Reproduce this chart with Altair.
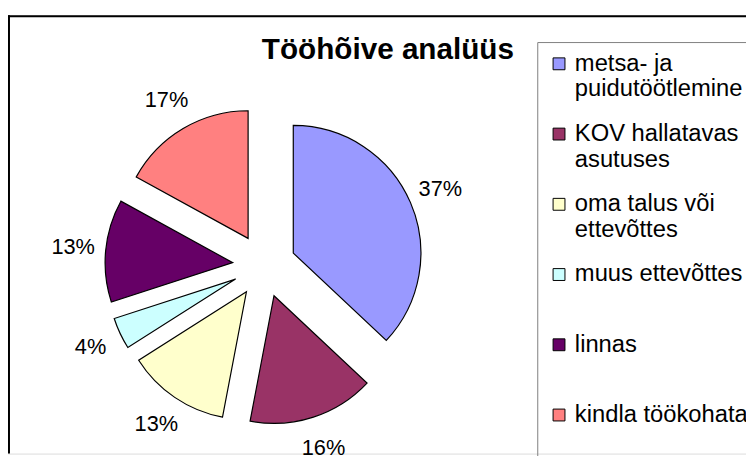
import altair as alt
import pandas as pd

# ---- data ----
categories = [
    "metsa- ja\npuidutöötlemine",
    "KOV hallatavas\nasutuses",
    "oma talus või\nettevõttes",
    "muus ettevõttes",
    "linnas",
    "kindla töökohata",
]
values = [37, 16, 13, 4, 13, 17]
colors = ["#9999FF", "#993366", "#FFFFCC", "#CCFFFF", "#660066", "#FF8080"]
title_text = "Tööhõive analüüs"

# ---- layout constants ----
W, H = 746, 443
CX, CY = 259, 253
R = 129
EXPLODE = 32
LABEL_R = 194
FONT = "Liberation Sans"

df = pd.DataFrame({"category": categories, "value": values,
                   "order": list(range(len(categories)))})

base = (
    alt.Chart(df)
    .transform_joinaggregate(total="sum(value)")
    .transform_window(cum="sum(value)", sort=[alt.SortField("order")], frame=[None, 0])
    .transform_calculate(start="(datum.cum - datum.value) / datum.total * 2 * PI")
    .transform_calculate(end="datum.cum / datum.total * 2 * PI")
    .transform_calculate(mid="(datum.start + datum.end) / 2")
    .transform_calculate(pct="format(datum.value / datum.total, '.0%')")
    .transform_calculate(
        cx=f"{CX} + {EXPLODE} * sin(datum.mid)",
        cy=f"{CY} - {EXPLODE} * cos(datum.mid)",
        lx=f"{CX} + {LABEL_R} * sin(datum.mid)",
        ly=f"{CY} - {LABEL_R} * cos(datum.mid)",
    )
)

legend = alt.Legend(
    title=None,
    orient="none",
    legendX=535,
    legendY=27,
    symbolType="square",
    symbolSize=144,
    symbolStrokeColor="black",
    symbolStrokeWidth=1,
    symbolOpacity=1,
    labelFont=FONT,
    labelFontSize=24,
    labelColor="black",
    labelLimit=400,
    labelOffset=4,
    labelBaseline="middle",
    labelExpr="indexof(datum.label, '\\n') >= 0 ? split(datum.label, '\\n') : [datum.label, '']",
    rowPadding=21,
    padding=10,
    strokeColor="#808080",
)

arcs = base.mark_arc(outerRadius=R, stroke="black", strokeWidth=1.2).encode(
    x=alt.X("cx:Q", scale=None, axis=None),
    y=alt.Y("cy:Q", scale=None, axis=None),
    theta=alt.Theta("start:Q", scale=None, stack=None),
    theta2="end:Q",
    color=alt.Color("category:N", scale=alt.Scale(domain=categories, range=colors),
                    sort=categories, legend=legend),
)

labels = base.mark_text(font=FONT, fontSize=22, align="center", baseline="middle",
                        color="black").encode(
    x=alt.X("lx:Q", scale=None, axis=None),
    y=alt.Y("ly:Q", scale=None, axis=None),
    text="pct:N",
)

one = alt.Data(values=[{}])
border_left = alt.Chart(one).mark_rule(color="black", strokeWidth=2).encode(
    x=alt.value(1), y=alt.value(0), y2=alt.value(H))
border_top = alt.Chart(one).mark_rule(color="black", strokeWidth=2).encode(
    x=alt.value(0), x2=alt.value(W), y=alt.value(1))

chart = (
    alt.layer(border_left, border_top, arcs, labels)
    .properties(
        width=W,
        height=H,
        autosize=alt.AutoSizeParams(type="none"),
        padding={"left": 0, "top": 5, "right": 0, "bottom": 0},
        title=alt.TitleParams(text=title_text, font=FONT, fontSize=30, fontWeight="bold",
                              color="black", anchor="middle", baseline="alphabetic",
                              offset=0, dx=11, dy=75),
    )
    .configure_view(stroke=None)
    .configure(background="white")
)

chart.save("out.html", embed_options={"renderer": "svg", "actions": False})
